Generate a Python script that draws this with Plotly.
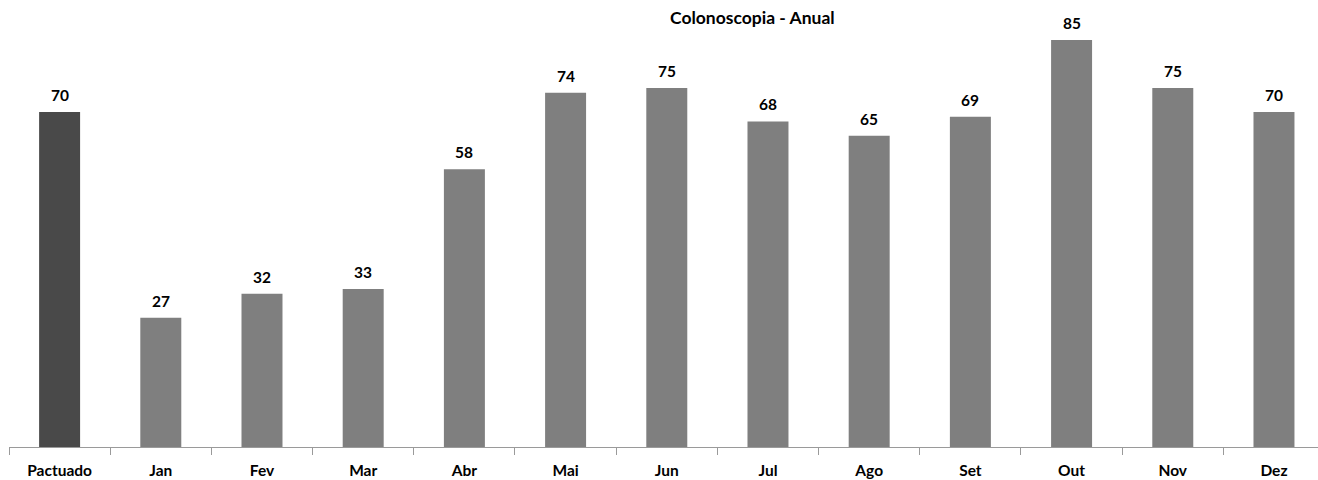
import plotly.graph_objects as go

categories = ["Pactuado", "Jan", "Fev", "Mar", "Abr", "Mai", "Jun", "Jul", "Ago", "Set", "Out", "Nov", "Dez"]
values = [70, 27, 32, 33, 58, 74, 75, 68, 65, 69, 85, 75, 70]
title_text = "Colonoscopia - Anual"

bar_colors = ["#494949"] + ["#7f7f7f"] * (len(categories) - 1)
font_family = "Lato, 'Open Sans', sans-serif"
font_size = 15.5

fig = go.Figure()
fig.add_trace(go.Bar(
    x=categories,
    y=values,
    marker=dict(color=bar_colors, line=dict(width=0)),
    width=0.405,
    hoverinfo="x+y",
))

# value labels above each bar
for c, v in zip(categories, values):
    fig.add_annotation(
        x=c, y=v, text=f"<b>{v}</b>", showarrow=False,
        yanchor="bottom", yshift=6,
        font=dict(family=font_family, size=font_size, color="#000000"),
    )

fig.add_annotation(
    text=f"<b>{title_text}</b>", xref="paper", yref="paper",
    x=0.5683, y=1.0, xanchor="center", yanchor="middle", showarrow=False, yshift=3,
    font=dict(family=font_family, size=17.5, color="#000000"),
)

fig.update_layout(
    width=1318, height=480,
    margin=dict(l=9, r=0, t=20, b=33, autoexpand=False),
    paper_bgcolor="white", plot_bgcolor="white",
    showlegend=False,
    bargap=0.6,
)
fig.update_xaxes(
    type="category",
    range=[-0.5, 12.435],
    automargin=False,
    showline=True, linecolor="#9a9a9a", linewidth=1,
    ticks="outside", tickson="boundaries", ticklen=7, tickcolor="#9a9a9a",
    tickfont=dict(family=font_family, size=font_size, color="#000000"),
    tickprefix="<b>", ticksuffix="</b>",
    showgrid=False, zeroline=False,
    ticklabelstandoff=9,
)
fig.update_yaxes(
    range=[0, 89.2], visible=False, showgrid=False, zeroline=False, automargin=False,
)

fig.write_html("out.html")
